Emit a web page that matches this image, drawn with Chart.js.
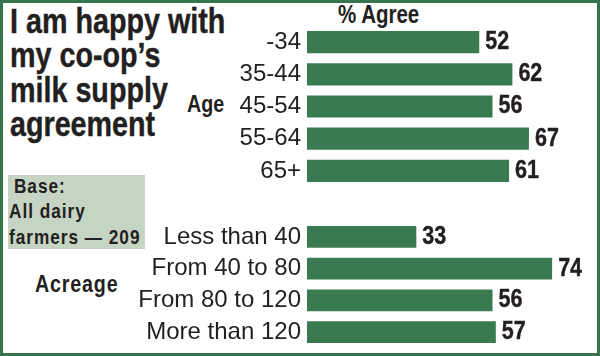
<!DOCTYPE html>
<html>
<head>
<meta charset="utf-8">
<script src="https://cdn.jsdelivr.net/npm/chart.js@4/dist/chart.umd.min.js"></script>
<style>
  html, body { margin: 0; padding: 0; background: #fff; }
  #frame { position: relative; width: 600px; height: 356px; box-sizing: border-box;
           border: 3px solid #36744d; background: #fff; overflow: hidden; }
  .t { position: absolute; color: #231f20; font-family: "Liberation Sans", Arial, sans-serif;
       font-weight: bold; white-space: nowrap; transform: scaleX(0.82); transform-origin: 0 0; }
  canvas { position: absolute; left: 0; }
</style>
</head>
<body>
<div id="frame">
  <div class="t" style="left:7px; top:0.6px; font-size:35px; line-height:34.5px; -webkit-text-stroke:0.4px #231f20;">I am happy with<br>my co-op’s<br>milk supply<br>agreement</div>
  <div class="t" style="left:335px; top:-1.2px; font-size:25px; line-height:25px;">% Agree</div>
  <div class="t" style="left:184px; top:88.7px; font-size:24px; line-height:24px;">Age</div>
  <div class="t" style="left:32px; top:268.7px; font-size:24px; line-height:24px; letter-spacing:1px;">Acreage</div>
  <div style="position:absolute; left:5px; top:172px; width:137px; height:74px; background:#c6d4c4;"></div>
  <div class="t" style="left:6px; top:169.5px; font-size:21px; line-height:25.5px; letter-spacing:1.2px;"><span style="padding-left:6px">Base:</span><br>All dairy<br>farmers — 209</div>
  <canvas id="c1" width="594" height="161" style="top:23px; width:594px; height:161px;"></canvas>
  <canvas id="c2" width="594" height="127" style="top:218px; width:594px; height:127px;"></canvas>
</div>
<script>
// ---- data ----
const ageLabels = ["-34", "35-44", "45-54", "55-64", "65+"];
const ageValues = [52, 62, 56, 67, 61];
const acreageLabels = ["Less than 40", "From 40 to 80", "From 80 to 120", "More than 120"];
const acreageValues = [33, 74, 56, 57];

const BAR_COLOR = "#3a7a50";
const TEXT_COLOR = "#231f20";

const valueLabels = {
  id: "valueLabels",
  afterDatasetsDraw(chart) {
    const ctx = chart.ctx;
    const meta = chart.getDatasetMeta(0);
    const data = chart.data.datasets[0].data;
    meta.data.forEach((bar, i) => {
      ctx.save();
      ctx.fillStyle = TEXT_COLOR;
      ctx.strokeStyle = TEXT_COLOR;
      ctx.lineWidth = 0.4;
      ctx.font = 'bold 25px "Liberation Sans", Arial, sans-serif';
      ctx.textAlign = "left";
      ctx.textBaseline = "middle";
      ctx.translate(bar.x + 6, bar.y);
      ctx.scale(0.86, 1);
      ctx.fillText(String(data[i]), 0, 0);
      ctx.strokeText(String(data[i]), 0, 0);
      ctx.restore();
    });
  }
};

function makeChart(id, labels, values) {
  return new Chart(document.getElementById(id), {
    type: "bar",
    data: {
      labels: labels,
      datasets: [{ data: values, backgroundColor: BAR_COLOR, borderWidth: 0,
                   barPercentage: 0.69, categoryPercentage: 1 }]
    },
    options: {
      indexAxis: "y",
      responsive: false,
      animation: false,
      devicePixelRatio: 1,
      layout: { padding: { left: 0, right: 25, top: 0, bottom: 0 } },
      plugins: { legend: { display: false }, tooltip: { enabled: false } },
      scales: {
        x: { display: false, min: 0, max: 80 },
        y: {
          grid: { display: false, drawTicks: false },
          border: { display: false },
          ticks: { color: TEXT_COLOR, padding: 6, autoSkip: false,
                   font: { family: '"Liberation Sans", Arial, sans-serif', size: 24 } },
          afterFit(scale) {
            scale.width = 304;
            scale.paddingTop = 0;
            scale.paddingBottom = 0;
          }
        }
      }
    },
    plugins: [valueLabels]
  });
}
makeChart("c1", ageLabels, ageValues);
makeChart("c2", acreageLabels, acreageValues);
</script>
</body>
</html>
